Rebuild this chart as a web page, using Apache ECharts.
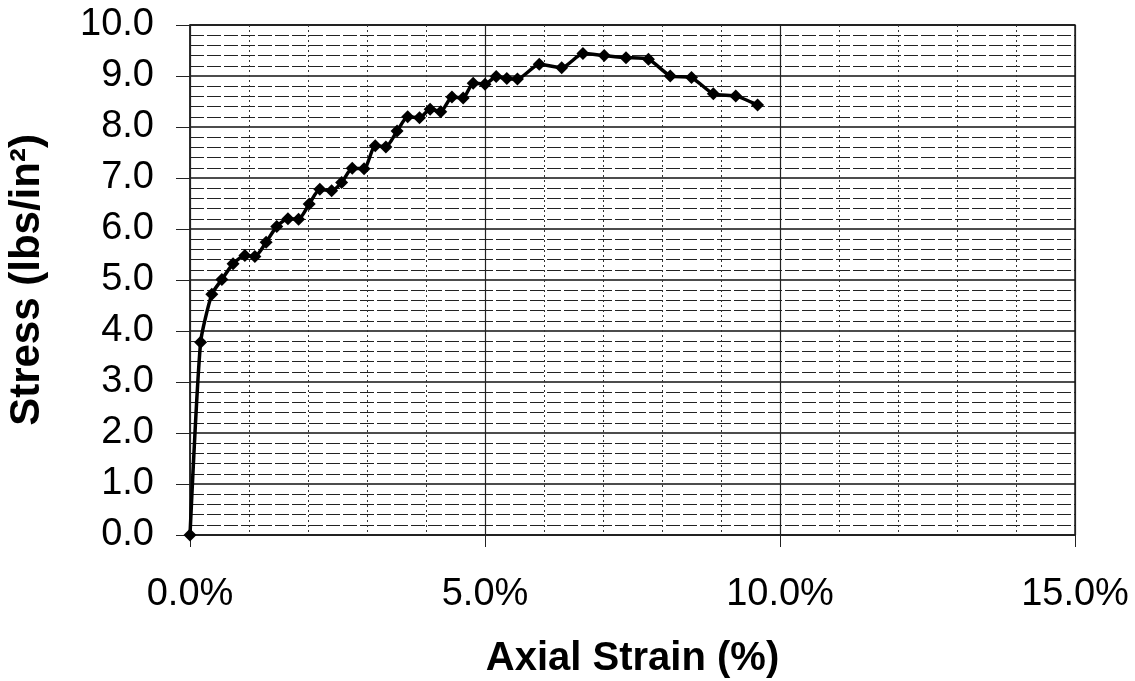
<!DOCTYPE html>
<html>
<head>
<meta charset="utf-8">
<title>Stress vs Axial Strain</title>
<script src="https://cdn.jsdelivr.net/npm/echarts@6/dist/echarts.min.js"></script>
<style>
    html, body { margin: 0; padding: 0; background: #fff; }
    #chart-line { width: 1135px; height: 681px; }
</style>
</head>
<body>
<div id="chart-line"></div>
<script>
// axial strain (%) and stress (lbs/in2)
var strainPct = [0, 0.18, 0.37, 0.54, 0.73, 0.93, 1.10, 1.29, 1.47, 1.66, 1.84, 2.02, 2.20, 2.40,
    2.57, 2.75, 2.95, 3.14, 3.32, 3.51, 3.69, 3.89, 4.07, 4.25, 4.44, 4.63, 4.80, 5.00, 5.19,
    5.37, 5.55, 5.92, 6.30, 6.66, 7.02, 7.39, 7.77, 8.14, 8.50, 8.87, 9.25, 9.62];
var stress = [0, 3.78, 4.72, 5.01, 5.32, 5.48, 5.46, 5.74, 6.05, 6.20, 6.19, 6.49, 6.78, 6.75,
    6.91, 7.19, 7.18, 7.63, 7.61, 7.92, 8.20, 8.18, 8.35, 8.30, 8.59, 8.57, 8.86, 8.84, 8.99,
    8.95, 8.94, 9.23, 9.16, 9.44, 9.40, 9.36, 9.33, 9.00, 8.97, 8.65, 8.61, 8.43];
var xTicks = [0, 5, 10, 15];
var yTicks = [0, 10];

var chartDom = document.getElementById("chart-line");
var chart = echarts.init(chartDom);

var seriesData = [];
for (var i = 0; i < strainPct.length; i++) {
    seriesData.push([strainPct[i], stress[i]]);
}

var font = "'Liberation Sans', Arial, sans-serif";

var option = {
    animation: false,
    backgroundColor: "#fff",
    grid: {
        left: 190,
        right: 60,
        top: 25,
        bottom: 146,
        outerBoundsMode: "none",
        containLabel: false,
        show: true,
        borderColor: "#222",
        borderWidth: 1.5
    },
    xAxis: {
        type: "value",
        min: xTicks[0],
        max: xTicks[xTicks.length - 1],
        interval: 5,
        name: "Axial Strain (%)",
        nameLocation: "middle",
        nameGap: 104,
        nameTextStyle: { fontFamily: font, fontSize: 40, fontWeight: "bold", color: "#000" },
        axisLine: { show: true, onZero: false, lineStyle: { color: "#222", width: 1.5 } },
        axisTick: { show: true, length: 12, lineStyle: { color: "#222" } },
        axisLabel: {
            margin: 41,
            fontFamily: font,
            fontSize: 38,
            color: "#000",
            formatter: function (v) { return v.toFixed(1) + "%"; }
        },
        splitLine: { show: true, lineStyle: { color: "#222", width: 1.2 } },
        minorTick: { show: false, splitNumber: 5 },
        minorSplitLine: { show: true, lineStyle: { color: "#333", width: 1, type: [2, 3] } }
    },
    yAxis: {
        type: "value",
        min: yTicks[0],
        max: yTicks[1],
        interval: 1,
        name: "Stress (lbs/in\u00B2)",
        nameLocation: "middle",
        nameGap: 142,
        nameTextStyle: { fontFamily: font, fontSize: 42, fontWeight: "bold", color: "#000" },
        axisLine: { show: true, lineStyle: { color: "#222", width: 1.5 } },
        axisTick: { show: true, length: 14, lineStyle: { color: "#222" } },
        axisLabel: {
            margin: 36,
            fontFamily: font,
            fontSize: 38,
            color: "#000",
            formatter: function (v) { return v.toFixed(1); }
        },
        splitLine: { show: true, lineStyle: { color: "#111", width: 1.5 } },
        minorTick: { show: false, splitNumber: 5 },
        minorSplitLine: { show: true, lineStyle: { color: "#222", width: 1.2, type: [14, 3] } }
    },
    series: [{
        name: "Stress",
        type: "line",
        data: seriesData,
        smooth: 0.2,
        symbol: "diamond",
        symbolSize: 13,
        itemStyle: { color: "#000" },
        lineStyle: { color: "#000", width: 3.5 }
    }]
};

chart.setOption(option);
</script>
</body>
</html>
